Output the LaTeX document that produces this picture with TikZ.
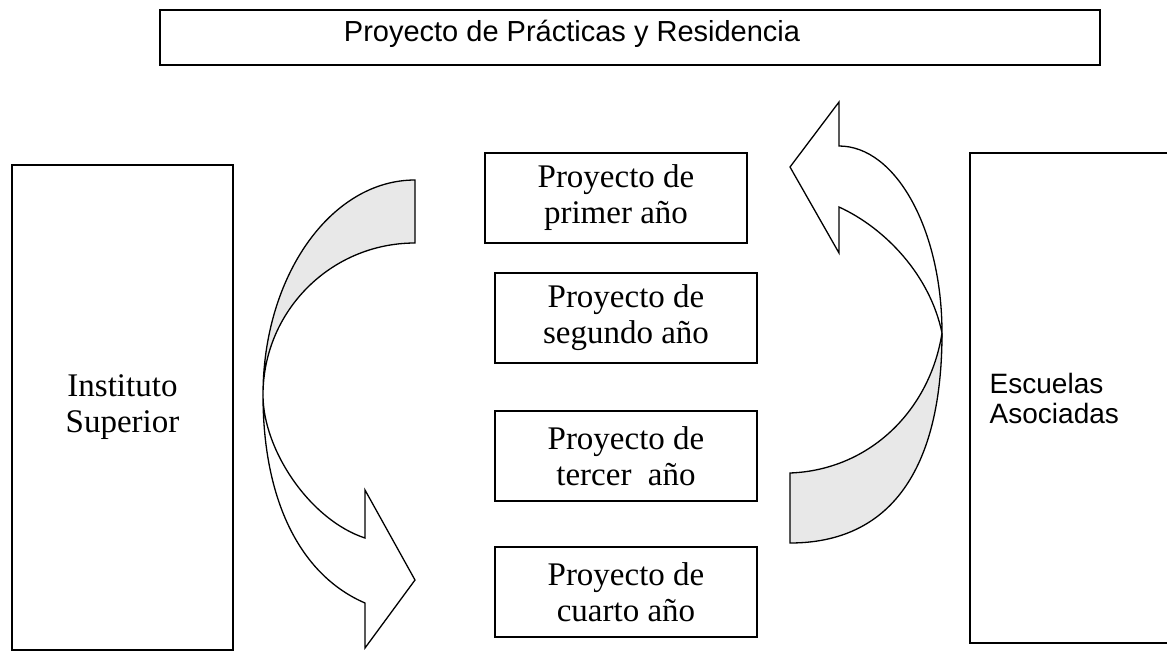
\documentclass[tikz,border=0pt]{standalone}
\usepackage{fontspec}
\setmainfont{Liberation Serif}
\newfontfamily\arialfont{Liberation Sans}
\usepackage{tikz}
\usetikzlibrary{positioning, calc}

\tikzset{
  every box/.style={draw, line width=1.6pt, rectangle, inner sep=0pt},
  box project/.style={every box, minimum width=262pt, minimum height=90pt,
    align=center, font=\fontsize{33}{36}\selectfont},
  box side/.style={every box, minimum width=221pt, minimum height=485pt,
    align=center, font=\fontsize{33}{36}\selectfont},
  arrow body/.style={draw, line width=1.3pt, line join=miter, fill=white},
  arrow back/.style={arrow body, fill=black!9},
}

\begin{document}
\begin{tikzpicture}[x=1pt, y=-1pt]
  \clip (0,0) rectangle (1167,651);
  \fill [white] (0,0) rectangle (1167,651);

  % Title box
  \node [every box, minimum width=940pt, minimum height=55pt] (title) at (630,37.5) {};
  \node [anchor=base, font=\arialfont\fontsize{29}{32}\selectfont] (title-text) at (572,41)
    {Proyecto de Prácticas y Residencia};

  % Side boxes
  \node [box side] (institute) at (122.5,407.5) {Instituto\\Superior};
  \node [every box, minimum width=210pt, minimum height=490pt] (schools) at (1075,398) {};
  \node [anchor=west, align=left, font=\arialfont\fontsize{28}{30}\selectfont]
    (schools-text) at ([xshift=17pt]schools.west) {Escuelas\\Asociadas};

  % Project boxes
  \foreach \m/\x/\y/\l in {1/616/198/primer año, 2/626/318/segundo año,
                           3/626/456/tercer\ \ año, 4/626/592/cuarto año}
    \node [box project] (project-\m) at (\x,\y) {Proyecto de\\\l};

  % Turning arrows
  \coordinate (left-pinch) at (263,395);
  \coordinate (right-pinch) at (942,333);

  \draw [arrow back] (415,180) .. controls (331,180) and (263,276) .. (left-pinch)
    .. controls (263,311) and (331,243) .. (415,243) -- cycle;
  \draw [arrow body] (left-pinch) .. controls (263,450) and (310,520) .. (365,538)
    -- (365,490) -- (415,580) -- (365,648) -- (365,603)
    .. controls (300,575) and (263,500) .. (left-pinch) -- cycle;

  \draw [arrow body] (right-pinch) .. controls (942,230) and (896,146) .. (839,146)
    -- (839,102) -- (790,167) -- (839,253) -- (839,207)
    .. controls (885,228) and (930,275) .. (right-pinch) -- cycle;
  \draw [arrow back] (right-pinch) .. controls (942,470) and (890,543) .. (790,543)
    -- (790,473) .. controls (870,470) and (930,410) .. (right-pinch) -- cycle;
\end{tikzpicture}
\end{document}
